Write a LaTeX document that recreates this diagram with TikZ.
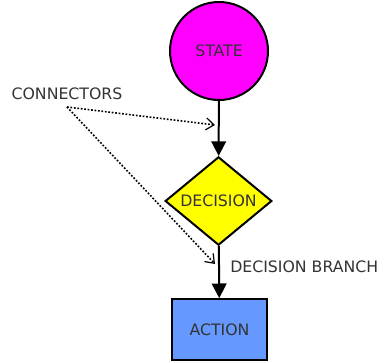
\documentclass[tikz,border=0pt]{standalone}
\usepackage{fontspec}
\setmainfont{DejaVu Sans}
\usepackage{xcolor}
\usetikzlibrary{shapes,arrows,positioning,calc,arrows.meta}
\definecolor{txtgray}{HTML}{333333}
\definecolor{statepink}{HTML}{FF00FF}
\definecolor{decyellow}{HTML}{FFFF00}
\definecolor{actblue}{HTML}{6699FF}
\tikzset{
    x=0.75pt, y=-0.75pt,
    every node/.style={font=\fontsize{11.8pt}{14pt}\selectfont, text=txtgray},
    shapebox/.style={draw=black, line width=1.5pt},
    flow/.style={line width=1.5pt, -{Triangle[width=11pt,length=11pt]}},
    pointer/.style={dash pattern=on 1.3pt off 1.3pt, line width=1.2pt, -{Straight Barb[length=6pt,width=9pt,line width=0.9pt]}}
}
\begin{document}
\begin{tikzpicture}
    \useasboundingbox (0,0) rectangle (386,362);

    % Flow chart
    \node[shapebox, circle, fill=statepink, minimum size=73.5pt, inner sep=0pt] (state) at (219,51) {STATE};
    \node[shapebox, diamond, fill=decyellow, minimum width=80pt, minimum height=61.5pt, inner sep=0pt] (decision) at (218.5,201) {DECISION};
    \node[shapebox, rectangle, fill=actblue, minimum width=71pt, minimum height=45.5pt, inner sep=0pt] (action) at (219.5,329.5) {ACTION};
    \draw[flow] (state) -- (decision);
    \draw[flow] (decision) -- (action);

    % Labels
    \node[anchor=west, inner sep=0pt] (branch) at (230,267) {DECISION BRANCH};
    \node[inner sep=0pt] (conn) at (67,94) {CONNECTORS};
    \coordinate (c1) at (215,125);
    \coordinate (c2) at (215,264);
    \coordinate (cfrom) at (67,107);
    \draw[pointer] (cfrom) -- (c1);
    \draw[pointer] (cfrom) -- (c2);
\end{tikzpicture}
\end{document}
